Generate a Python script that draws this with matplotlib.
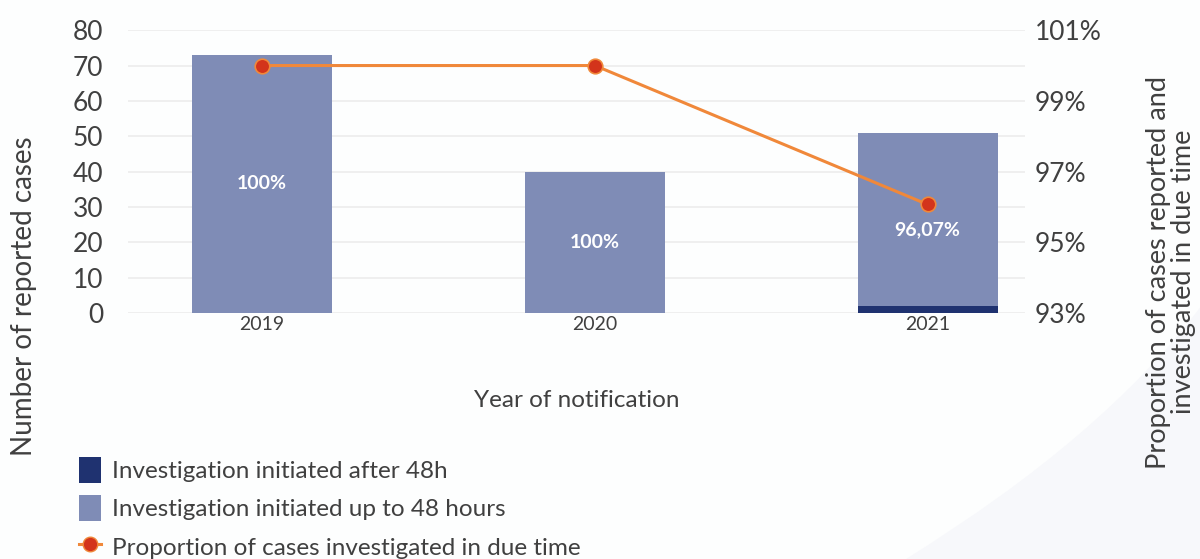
import matplotlib.pyplot as plt
from matplotlib.patches import Patch, PathPatch
from matplotlib.lines import Line2D
from matplotlib.path import Path
import numpy as np

plt.rcParams['font.family'] = ['Lato', 'DejaVu Sans']

years = ['2019', '2020', '2021']
after_48h = [0, 0, 2]
up_to_48h = [73, 40, 49]
proportion = [100.0, 100.0, 96.07]
bar_labels = ['100%', '100%', '96,07%']

c_light = '#7F8CB6'
c_dark = '#1F3270'
c_line = '#F0883A'
c_dot = '#D3341B'
c_text = '#404040'
c_grid = '#EDEDED'

fig = plt.figure(figsize=(12, 5.59), dpi=100)
fig.patch.set_facecolor('#FDFEFE')

# faint curved band in the lower right corner
verts = [(0.755, 0.0), (0.92, 0.22), (1.0, 0.45), (1.0, 0.0), (0.755, 0.0)]
codes = [Path.MOVETO, Path.CURVE3, Path.CURVE3, Path.LINETO, Path.CLOSEPOLY]
fig.patches.append(PathPatch(Path(verts, codes), transform=fig.transFigure,
                             facecolor='#F7F8FB', edgecolor='none', zorder=0))

ax = fig.add_axes([0.107, 0.44, 0.747, 0.506])
ax.set_facecolor('none')
x = np.arange(len(years))
w = 0.42

ax.bar(x, after_48h, w, color=c_dark, zorder=2)
ax.bar(x, up_to_48h, w, bottom=after_48h, color=c_light, zorder=2)

for i in range(len(years)):
    ax.text(x[i], after_48h[i] + up_to_48h[i] / 2 - (3 if after_48h[i] else 0),
            bar_labels[i], ha='center', va='center', color='white',
            fontsize=14, fontweight='bold', zorder=5)

ax.set_xlim(-0.402, 2.292)
ax.set_ylim(0, 80)
ax.set_yticks(range(0, 81, 10))
ax.yaxis.grid(True, color=c_grid, linewidth=1.2)
ax.set_axisbelow(True)
for s in ax.spines.values():
    s.set_visible(False)
ax.tick_params(axis='both', length=0, colors=c_text)
ax.tick_params(axis='y', labelsize=19, pad=18)
ax.tick_params(axis='x', labelsize=14, pad=2)
ax.set_xticks(x)
ax.set_xticklabels(years)
ax.set_xlabel('Year of notification', fontsize=17.5, color=c_text, labelpad=41)
ax.set_ylabel('Number of reported cases', fontsize=20, color=c_text)
ax.yaxis.set_label_coords(-0.102, 0.06)

ax2 = ax.twinx()
ax2.plot(x, proportion, color=c_line, linewidth=2.2, zorder=4)
ax2.plot(x, proportion, 'o', markersize=10.5, markerfacecolor=c_dot,
         markeredgecolor=c_line, markeredgewidth=1.2, zorder=5)
ax2.set_ylim(93, 101)
ax2.set_yticks([93, 95, 97, 99, 101])
ax2.set_yticklabels(['93%', '95%', '97%', '99%', '101%'])
for s in ax2.spines.values():
    s.set_visible(False)
ax2.tick_params(axis='y', length=0, labelsize=19, colors=c_text, pad=7)

fig.text(1171 / 1200, 1 - 272 / 559,
         'Proportion of cases reported and\ninvestigated in due time',
         rotation=90, ha='center', va='center', multialignment='center',
         fontsize=19.5, color=c_text, linespacing=1.0)

handles = [Patch(facecolor=c_dark, edgecolor='none'),
           Patch(facecolor=c_light, edgecolor='none'),
           Line2D([0], [0], color=c_line, linewidth=2.2, marker='o', markersize=10.5,
                  markerfacecolor=c_dot, markeredgecolor=c_line)]
labels = ['Investigation initiated after 48h',
          'Investigation initiated up to 48 hours',
          'Proportion of cases investigated in due time']
leg = fig.legend(handles, labels, loc='upper left', bbox_to_anchor=(0.058, 0.2),
                 frameon=False, fontsize=17.5, labelcolor=c_text, handlelength=0.9,
                 handleheight=1.25, handletextpad=0.45, labelspacing=0.52,
                 borderaxespad=0)

fig.savefig('out.png', dpi=100, facecolor=fig.get_facecolor())
